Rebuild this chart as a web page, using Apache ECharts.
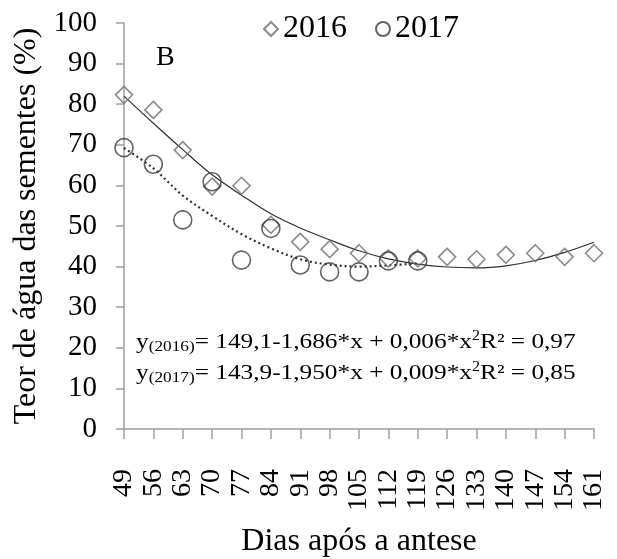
<!DOCTYPE html>
<html>
<head>
<meta charset="utf-8">
<script src="https://cdn.jsdelivr.net/npm/echarts@6/dist/echarts.min.js"></script>
<style>
  html, body { margin: 0; padding: 0; background: #fff; }
  #chart { width: 617px; height: 559px; }
</style>
</head>
<body>
<div id="chart"></div>
<script>
// Days after anthesis (x categories)
var days = [49, 56, 63, 70, 77, 84, 91, 98, 105, 112, 119, 126, 133, 140, 147, 154, 161];

// Seed water content (%) observed in each season
var teor2016 = [82.3, 78.6, 68.7, 59.7, 59.9, 50.3, 46.1, 44.3, 43.3, 42.0, 42.0, 42.4, 41.8, 42.9, 43.3, 42.4, 43.3];
var teor2017 = [69.3, 65.2, 51.5, 60.9, 41.6, 49.4, 40.4, 38.7, 38.7, 41.4, 41.4];

// Fitted quadratic trend values at each sampling day
var ajuste2016 = [82.0, 75.3, 68.8, 62.6, 57.6, 53.0, 49.5, 46.6, 43.9, 41.9, 40.6, 39.9, 39.7, 40.2, 41.5, 43.5, 46.0];
var ajuste2017 = [69.2, 64.2, 57.5, 52.5, 48.0, 44.5, 41.8, 40.5, 40.0, 40.3, 40.8];

// Y axis ticks
var yMin = 0, yMax = 100, yStep = 10;

var serif = '"Liberation Serif", "Times New Roman", serif';
var axisGray = '#a0a0a0';

var chart = echarts.init(document.getElementById('chart'), null, { renderer: 'canvas' });

var eqRich = {
  b: { fontSize: 22, fontFamily: serif, color: '#000', lineHeight: 26, verticalAlign: 'middle' },
  s: { fontSize: 15, fontFamily: serif, color: '#000', lineHeight: 15, verticalAlign: 'bottom' },
  p: { fontSize: 14, fontFamily: serif, color: '#000', lineHeight: 14, verticalAlign: 'top' }
};

chart.setOption({
  animation: false,
  backgroundColor: '#fff',
  grid: { left: 124, right: 23, top: 23, bottom: 130, containLabel: false, outerBoundsMode: 'none' },
  legend: {
    data: ['2016', '2017'],
    left: 258,
    top: 8,
    itemWidth: 14,
    itemHeight: 14,
    itemGap: 28,
    textStyle: { fontSize: 32, fontFamily: serif, color: '#000' }
  },
  xAxis: {
    type: 'category',
    data: days,
    boundaryGap: false,
    name: 'Dias após a antese',
    nameLocation: 'middle',
    nameGap: 97,
    nameTextStyle: { fontSize: 32, fontFamily: serif, color: '#000' },
    axisLine: { lineStyle: { color: axisGray, width: 1.5 } },
    axisTick: { show: true, length: 10, interval: 0, lineStyle: { color: axisGray, width: 1.5 } },
    axisLabel: { rotate: 90, interval: 0, margin: 40, fontSize: 28, fontFamily: serif, color: '#000' },
    splitLine: { show: false }
  },
  yAxis: {
    type: 'value',
    min: yMin,
    max: yMax,
    interval: yStep,
    name: 'Teor de água das sementes (%)',
    nameLocation: 'middle',
    nameGap: 80,
    nameTextStyle: { fontSize: 32, fontFamily: serif, color: '#000' },
    axisLine: { show: true, lineStyle: { color: axisGray, width: 1.5 } },
    axisTick: { show: true, length: 8, lineStyle: { color: axisGray, width: 1.5 } },
    axisLabel: { margin: 27, fontSize: 29, fontFamily: serif, color: '#000' },
    splitLine: { show: false }
  },
  series: [
    {
      name: 'Ajuste 2016',
      type: 'line',
      data: ajuste2016,
      smooth: 0.35,
      showSymbol: false,
      silent: true,
      z: 1,
      lineStyle: { color: '#303030', width: 1.2, type: 'solid' }
    },
    {
      name: 'Ajuste 2017',
      type: 'line',
      data: ajuste2017,
      smooth: 0.35,
      showSymbol: false,
      silent: true,
      z: 1,
      lineStyle: { color: '#303030', width: 2.2, type: [2, 3] }
    },
    {
      name: '2016',
      type: 'scatter',
      data: teor2016,
      symbol: 'diamond',
      symbolSize: 17,
      z: 3,
      itemStyle: { color: 'rgba(255,255,255,0)', borderColor: '#6e6e6e', borderWidth: 1.6 }
    },
    {
      name: '2017',
      type: 'scatter',
      data: teor2017,
      symbol: 'circle',
      symbolSize: 18,
      z: 3,
      itemStyle: { color: 'rgba(255,255,255,0)', borderColor: '#3c3c3c', borderWidth: 1.6 }
    }
  ],
  graphic: [
    {
      type: 'text',
      x: 156,
      y: 58,
      style: { text: 'B', fontSize: 28, fontFamily: serif, fill: '#000', verticalAlign: 'middle', align: 'left' }
    },
    {
      type: 'text',
      x: 136,
      y: 342,
      scaleX: 1.15,
      style: {
        text: '{b|y}{s|(2016)}{b|= 149,1-1,686*x + 0,006*x}{p|2}{b|R² = 0,97}',
        rich: eqRich,
        verticalAlign: 'middle',
        align: 'left'
      }
    },
    {
      type: 'text',
      x: 136,
      y: 373,
      scaleX: 1.15,
      style: {
        text: '{b|y}{s|(2017)}{b|= 143,9-1,950*x + 0,009*x}{p|2}{b|R² = 0,85}',
        rich: eqRich,
        verticalAlign: 'middle',
        align: 'left'
      }
    }
  ]
});
</script>
</body>
</html>
